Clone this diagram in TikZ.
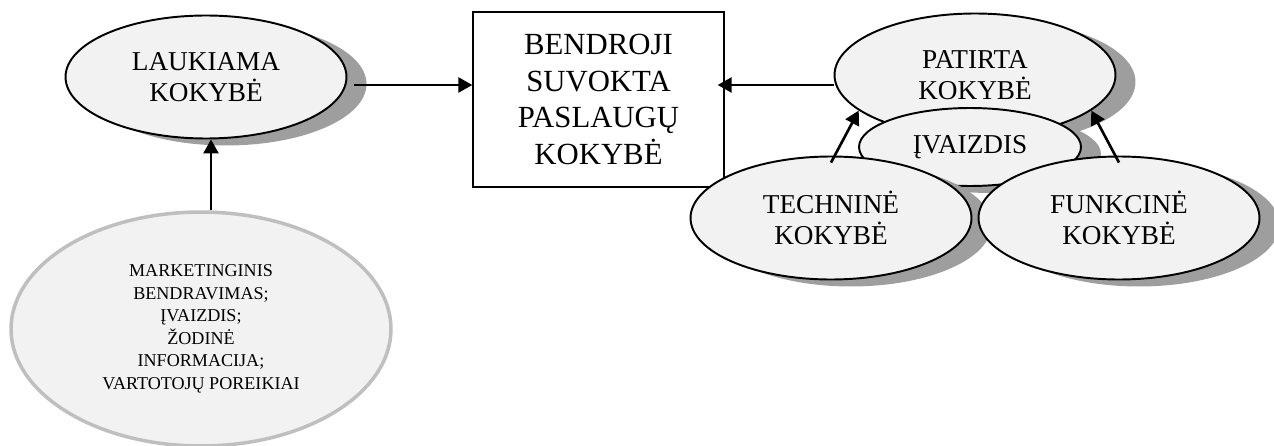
\documentclass[tikz,border=0pt]{standalone}
\usepackage{fontspec}
\setmainfont{Liberation Serif}
\usetikzlibrary{shapes.geometric}
\usetikzlibrary{arrows.meta, shadows}

\begin{document}
\begin{tikzpicture}[x=0.02cm,y=-0.02cm,
  oval/.style={ellipse,draw=black,line width=1.1pt,fill=black!5,inner sep=0pt,align=center,
    font=\fontsize{15.5}{18}\selectfont,minimum width=5.62cm,minimum height=2.46cm,
    drop shadow={shadow xshift=0.4cm,shadow yshift=-0.14cm,fill=black!38,opacity=1}},
  arr/.style={line width=1.5pt,-{Triangle[length=0.28cm,width=0.3cm]}}]
\useasboundingbox (0,0) rectangle (1274,446);

\node[oval] (L) at (206,77) {LAUKIAMA\\KOKYBĖ};
\node[draw,line width=0.8pt,inner sep=0pt,minimum width=5.02cm,minimum height=3.5cm,align=center,
  font=\fontsize{17.5}{21}\selectfont] (B) at (598.5,99.5) {BENDROJI\\SUVOKTA\\PASLAUGŲ\\KOKYBĖ};
\node[oval] (P) at (975,75) {PATIRTA\\KOKYBĖ};
\node[oval,minimum width=4.44cm,minimum height=1.56cm] (I) at (970,147) {ĮVAIZDIS};
\node[oval] (T) at (831,218) {TECHNINĖ\\KOKYBĖ};
\node[oval] (F) at (1119,218) {FUNKCINĖ\\KOKYBĖ};
\node[ellipse,draw=black!25,line width=2pt,fill=black!5,inner sep=0pt,align=center,
  minimum width=7.6cm,minimum height=4.68cm,font=\fontsize{10.3}{12.8}\selectfont] (M) at (201,329)
  {MARKETINGINIS\\BENDRAVIMAS;\\ĮVAIZDIS;\\ŽODINĖ\\INFORMACIJA;\\VARTOTOJŲ POREIKIAI};

\coordinate (lvl) at (0,85);
\draw[arr] ([xshift=0.14cm]L.east |- lvl) -- (B.west |- lvl);
\draw[arr] (P.west |- lvl) -- ([xshift=-0.14cm]B.east |- lvl);
\draw[arr] (M.north -| 211,0) -- (L.south -| 211,0);
\draw[arr] ([yshift=-0.14cm]T.north) -- (P.197);
\draw[arr] ([yshift=-0.14cm]F.north) -- (P.343);

\end{tikzpicture}
\end{document}
